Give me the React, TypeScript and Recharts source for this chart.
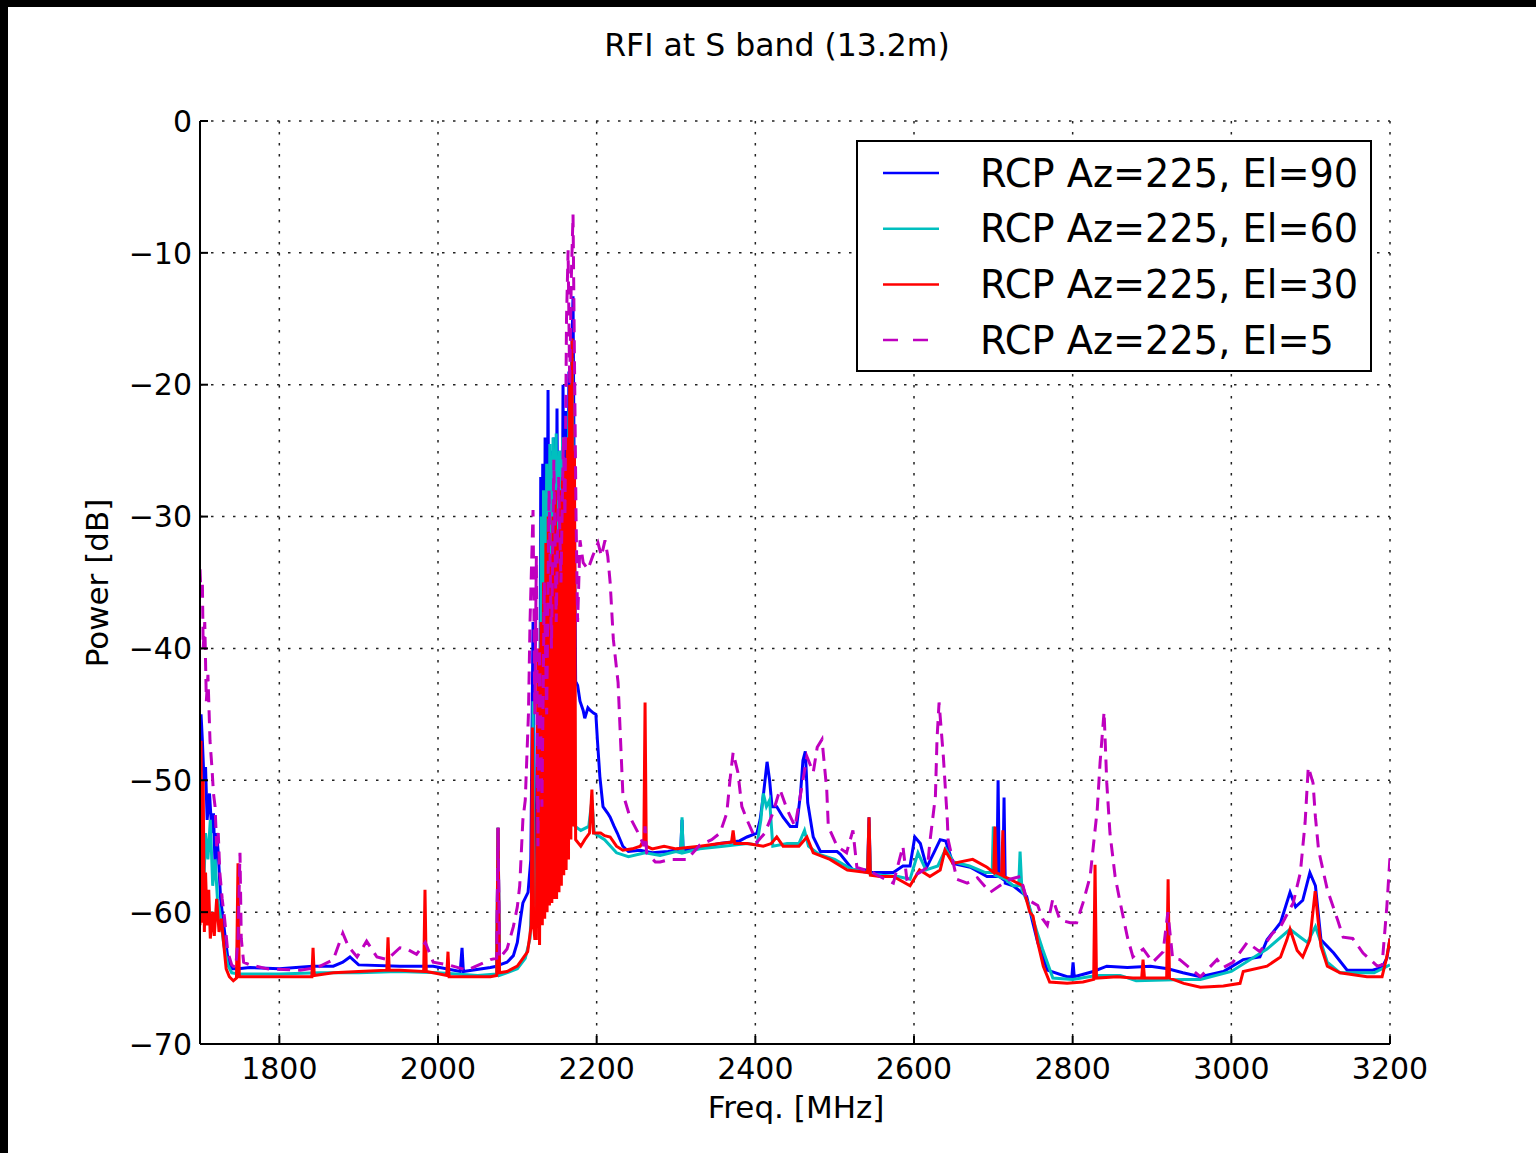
import { LineChart, Line, XAxis, YAxis, CartesianGrid } from "recharts"

// [freq MHz, power dB]
const rcpEl90: [number, number][] = [
  [1700, -48], [1701.3, -45], [1703, -47], [1705, -50], [1707, -49], [1709, -53], [1712, -51], [1715, -54],
  [1717, -52.5], [1719, -56.5], [1721, -54], [1723, -55.5], [1726, -59], [1729, -60.5], [1732, -62], [1735.3, -63.6],
  [1740, -64.3], [1748, -64.3], [1763, -64.2], [1800, -64.3], [1842, -64.1], [1868, -64.1], [1880, -63.8], [1889, -63.4],
  [1900, -64], [1952, -64.1], [1994, -64.1], [2028, -64.5], [2030.3, -62.7], [2032, -64.5], [2066, -64.2], [2074, -64.1],
  [2075.7, -53.6], [2077.5, -64], [2087, -63.8], [2095, -63.3], [2100, -62.3], [2104, -60.5], [2107, -59.3], [2113.5, -58.5],
  [2117, -56], [2119.8, -38], [2121.5, -51.5], [2124, -58], [2126, -50], [2128, -54], [2129.5, -27], [2130.5, -52],
  [2132, -26], [2133.5, -50], [2135, -24], [2136.5, -48], [2138.7, -20.4], [2140.5, -45], [2142, -25], [2144, -48],
  [2146, -24], [2148, -45], [2150, -21.8], [2152, -44], [2154, -25], [2156, -42], [2157.6, -20], [2159, -40],
  [2161, -22], [2163, -40], [2165, -19], [2167, -35], [2168.5, -18], [2170.2, -13.3], [2172, -30], [2173.5, -42.5],
  [2176, -42.8], [2179, -44], [2183, -44.7], [2185, -45.3], [2189, -44.5], [2192, -44.7], [2196, -44.9], [2199, -45],
  [2201, -47], [2204, -49.7], [2208, -52], [2214, -52.5], [2217, -52.8], [2222, -53.5], [2226, -54], [2233, -55],
  [2240, -55.4], [2255, -55.3], [2270, -55.5], [2290, -55.4], [2306, -55.2], [2307.6, -53], [2309, -55.3], [2330, -55.1],
  [2355, -54.8], [2380, -54.6], [2389.5, -54.3], [2402, -54], [2406, -53], [2410, -51.2], [2414.8, -48.6], [2418, -50],
  [2421, -52], [2427, -52], [2435, -52.8], [2444, -53.5], [2452, -53.5], [2457, -51], [2460, -48.5], [2463, -47.8],
  [2466, -51.7], [2473, -54.3], [2482, -55.4], [2503, -55.4], [2507, -55.6], [2523, -56.8], [2541.5, -56.8], [2543.3, -52.8],
  [2545, -57], [2557, -57], [2574, -57], [2586, -56.5], [2595, -56.5], [2601, -54.3], [2608, -54.8], [2616, -56.6],
  [2625, -55.5], [2633, -54.5], [2640, -54.6], [2649, -56.3], [2671, -56.6], [2692, -57.3], [2704.5, -57.3], [2706, -50],
  [2707.5, -57.3], [2712, -57.5], [2713.5, -51.3], [2715, -57.8], [2725, -58], [2742, -58.8], [2749, -60.6], [2756, -62.3],
  [2763, -63.5], [2768, -64.4], [2793, -64.9], [2799, -64.9], [2800.5, -63.8], [2802, -64.9], [2826, -64.5], [2843, -64.1],
  [2869, -64.2], [2898, -64.1], [2920, -64.3], [2939, -64.6], [2961, -64.9], [2990, -64.5], [3015, -63.6], [3036, -63.4],
  [3045, -62.1], [3062, -60.8], [3074, -58.5], [3081, -59.6], [3090, -59.1], [3099, -57], [3106, -58], [3113, -62.1],
  [3129, -63.1], [3146, -64.4], [3178, -64.4], [3190, -64.2], [3196, -63.5], [3200, -62],
]

const rcpEl60: [number, number][] = [
  [1700, -53], [1701.3, -50.7], [1703, -55], [1705, -57.5], [1707, -54], [1710, -56], [1713, -53], [1716, -58],
  [1719, -56], [1722, -59], [1725, -60], [1730, -62.5], [1735, -64], [1740, -64.6], [1750, -64.7], [1800, -64.7],
  [1850, -64.6], [1900, -64.6], [1950, -64.5], [2000, -64.6], [2050, -64.8], [2074, -64.7], [2075.7, -53.6], [2077.5, -64.8],
  [2100, -64.3], [2110, -63.5], [2116, -62], [2119, -58], [2119.8, -44], [2121, -58], [2124, -60], [2126, -52],
  [2128, -45], [2129, -58], [2130, -30], [2131.5, -55], [2133, -28], [2135, -52], [2137, -26], [2139, -50],
  [2141, -24.5], [2143, -48], [2145, -24], [2147, -46], [2149, -23.7], [2151, -45], [2153, -25], [2155, -44],
  [2157, -24], [2159, -42], [2161, -26], [2163, -42], [2165, -22], [2167, -40], [2169, -18], [2171, -30],
  [2173, -53.5], [2180, -53.8], [2190, -53.5], [2194, -51.5], [2197, -54], [2210, -54.5], [2225, -55.5], [2240, -55.8],
  [2261, -55.5], [2280, -55.7], [2300, -55.4], [2306, -55.5], [2307.6, -52.8], [2309, -55.5], [2330, -55.2], [2360, -55],
  [2390, -54.8], [2402, -54.9], [2407, -53], [2410, -51], [2414, -52], [2418, -51.5], [2422, -55], [2440, -54.8],
  [2455, -54.8], [2462, -53.8], [2467, -55], [2480, -55.6], [2500, -56], [2520, -56.7], [2541.5, -57], [2543.3, -53.5],
  [2545, -57.1], [2560, -57.2], [2580, -57.3], [2595, -57.5], [2605, -55.5], [2615, -56.8], [2630, -56.5], [2640, -55.2],
  [2650, -56.2], [2670, -56.5], [2690, -57], [2698.5, -57], [2700, -53.5], [2702, -57.2], [2715, -57.5], [2725, -58],
  [2732, -58], [2733.7, -55.4], [2736, -58.3], [2745, -59.5], [2755, -61.5], [2762, -62.8], [2775, -65], [2800, -65.1],
  [2830, -64.8], [2860, -64.8], [2880, -65.2], [2940, -65.1], [2961, -65.1], [3000, -64.5], [3045, -62.8], [3074, -61.3],
  [3087, -61.9], [3096, -62.3], [3106, -61.1], [3113, -62.3], [3121, -63.8], [3137, -64.6], [3180, -64.6], [3200, -64],
]

const rcpEl30: [number, number][] = [
  [1700, -61], [1701.3, -47], [1702.5, -60.8], [1704, -50], [1705.5, -61.5], [1707, -57], [1709, -61], [1711, -58.3],
  [1713, -62], [1716, -60], [1718, -61.8], [1721, -59], [1724, -61.5], [1727, -60.5], [1730, -62.5], [1733, -64.3],
  [1737, -64.9], [1742, -65.2], [1746, -65], [1747.9, -56.3], [1749.5, -64.9], [1763, -64.9], [1800, -64.9], [1841, -64.9],
  [1842.5, -62.7], [1844, -64.8], [1868, -64.6], [1900, -64.5], [1935.5, -64.4], [1937, -61.9], [1938.5, -64.4], [1952, -64.4],
  [1982, -64.5], [1983.6, -58.3], [1985.2, -64.5], [1994, -64.6], [2011, -64.8], [2012.6, -63], [2014, -64.9], [2036, -64.9],
  [2066, -64.9], [2074, -64.8], [2075.7, -53.6], [2077.5, -64.6], [2087, -64.5], [2100, -64.1], [2107, -63.5], [2113, -63],
  [2117.5, -61], [2119, -46], [2120.5, -61], [2122, -62], [2124, -62], [2126, -40], [2128, -62.5], [2130, -38],
  [2131.5, -61], [2133, -35], [2134.5, -60.5], [2136, -32], [2137.5, -60], [2139, -30], [2140.5, -59.5], [2142, -33],
  [2143.5, -59.3], [2145, -30], [2146.5, -59], [2148, -28], [2149.5, -59], [2151, -31], [2152.5, -58.5], [2154, -28],
  [2155.5, -58], [2157, -27], [2158.5, -57.2], [2160, -26], [2161.5, -56.8], [2163, -24], [2164.5, -56], [2166, -20],
  [2167.5, -54.5], [2169, -16.5], [2170.5, -53.5], [2172, -25], [2173.5, -54.5], [2180, -55], [2185, -54.5], [2191, -54],
  [2194, -50.7], [2196, -54], [2205, -54], [2210, -54.2], [2217, -54.3], [2225, -55], [2233, -55.3], [2245, -55.2],
  [2255, -55], [2259.5, -54.5], [2261, -44.1], [2262.5, -55], [2270, -55.2], [2285, -55], [2300, -55.2], [2330, -55],
  [2355, -54.8], [2370, -54.7], [2372, -53.8], [2374, -54.8], [2390, -54.8], [2410, -55], [2420, -54.8], [2427, -54.3],
  [2435, -55], [2455, -55], [2465, -54.3], [2473, -55.5], [2494, -56], [2516, -56.8], [2541.5, -57], [2543.3, -52.8],
  [2545, -57.2], [2557, -57.3], [2574, -57.3], [2595, -58], [2607, -56.8], [2620, -57.3], [2633, -56.8], [2639, -55.3],
  [2649, -56.3], [2674, -56], [2692, -56.6], [2700.5, -57], [2702, -53.5], [2703.5, -57], [2710.5, -57.2], [2712, -53.8],
  [2713.5, -57.3], [2721, -57.5], [2737, -58], [2746, -60], [2750, -60.3], [2756, -62.3], [2763, -64.1], [2771, -65.3],
  [2793, -65.4], [2813, -65.3], [2826.5, -65.1], [2828.2, -56.4], [2830, -65], [2856, -64.9], [2876, -65], [2887, -65],
  [2888.7, -63.6], [2890.5, -65], [2901, -65], [2918.5, -65], [2920.3, -57.5], [2922, -65], [2940, -65.4], [2961, -65.7],
  [2990, -65.6], [3011, -65.4], [3015, -64.5], [3045, -64.1], [3062, -63.4], [3070, -62.1], [3074, -61.3], [3083, -62.9],
  [3090, -63.4], [3099, -62.1], [3105.7, -58.4], [3110, -61], [3113, -62.6], [3121, -64.1], [3137, -64.6], [3171, -64.9],
  [3190, -64.9], [3196, -63.4], [3200, -62],
]

const rcpEl5: [number, number][] = [
  [1700, -34], [1701.3, -36], [1703, -35], [1704, -40], [1706, -38], [1708, -44], [1710, -42], [1712.6, -47],
  [1715, -49], [1717, -51], [1719, -52], [1721, -55], [1723, -54], [1725, -57], [1728, -59], [1731, -60.5],
  [1735, -63], [1740, -64], [1745, -64.2], [1748, -62], [1750.4, -55.5], [1752, -62], [1755, -63.8], [1763, -64],
  [1785, -64.3], [1826, -64.4], [1848, -64.2], [1868, -63.6], [1880, -61.6], [1887, -62.6], [1898, -63.4], [1910, -62.2],
  [1923, -63.4], [1936, -63.6], [1952, -62.7], [1961, -62.8], [1973, -63.2], [1984, -62.3], [1994, -63.8], [2013, -64],
  [2037, -64.4], [2066, -63.6], [2074, -63.5], [2075.7, -53.6], [2077.5, -63.5], [2087, -62.8], [2095, -61.1], [2100, -59.6],
  [2103, -58], [2107, -53], [2110, -51.5], [2114, -45], [2116, -38], [2119.8, -29.5], [2122, -45], [2124, -33],
  [2126, -55], [2128, -40], [2131, -52], [2134, -35], [2137, -45], [2140, -28], [2143, -40], [2146, -25.7],
  [2149, -38], [2152, -27], [2155, -35], [2158, -24], [2160, -30], [2162, -15], [2164, -9.8], [2166, -20],
  [2168, -12], [2170.2, -7.1], [2172, -18], [2174, -30], [2176, -38], [2179, -31.8], [2183, -33.5], [2189, -34],
  [2195, -33], [2201.7, -32], [2206, -33], [2210.5, -31.8], [2214, -33], [2217, -35], [2221, -39.3], [2227, -42.6],
  [2233, -51], [2242, -52.8], [2255, -54.3], [2259.5, -55], [2261, -53.5], [2263, -55.5], [2274, -56.2], [2280, -56.2],
  [2292, -56], [2305, -56], [2314, -56], [2330, -54.9], [2345, -54.5], [2355.5, -54], [2364, -52.5], [2368, -50],
  [2372, -47.9], [2378, -49.4], [2383, -52], [2389.5, -53], [2402, -54.7], [2412, -54], [2422, -52.5], [2431, -50.7],
  [2440, -52.2], [2450, -53.5], [2460, -50], [2465, -48.2], [2473, -49.4], [2478, -47.5], [2484, -46.9], [2490, -50.7],
  [2492, -53.5], [2503, -55], [2515, -55.5], [2523, -53.8], [2528, -56.6], [2548, -57], [2557, -57.3], [2574, -57.8],
  [2586, -55], [2591, -57.5], [2607, -57], [2617, -56.6], [2620, -54.7], [2627, -51.2], [2629, -46.9], [2631.6, -44.1],
  [2637, -48.2], [2642, -53], [2643, -54.5], [2654, -57.5], [2667, -57.8], [2680, -57.4], [2696, -58.5], [2708, -58],
  [2721, -57.5], [2734, -57.3], [2742, -59], [2756, -59.5], [2762, -60.5], [2768, -61], [2775, -59], [2784, -60.6],
  [2797, -60.8], [2805, -60.8], [2813, -59.3], [2822, -57.3], [2831, -52.2], [2834.5, -48.7], [2839.6, -44.8], [2843, -50.2],
  [2847, -54], [2853.5, -57.3], [2860, -59.3], [2869, -61.9], [2876, -63.4], [2889, -62.8], [2901, -63.8], [2914, -63],
  [2920, -60], [2926, -63.5], [2935, -63.6], [2961, -64.9], [2982, -63.6], [2990, -64.2], [3002, -63.8], [3020, -62.3],
  [3036, -63], [3052, -61.6], [3062, -61.1], [3078, -59.3], [3087, -57], [3093, -53.2], [3097, -49], [3103, -50.2],
  [3106, -52.8], [3110, -55.3], [3121, -58.3], [3134, -60.6], [3141, -61.9], [3153, -62], [3166, -63.1], [3184, -64.1],
  [3190, -64], [3196, -59.6], [3200, -55.8],
]

const xTicks = [1800, 2000, 2200, 2400, 2600, 2800, 3000, 3200]
const yTicks = [0, -10, -20, -30, -40, -50, -60, -70]

const series = [
  { name: "RCP Az=225, El=90", points: rcpEl90, color: "#0000ff", dash: undefined },
  { name: "RCP Az=225, El=60", points: rcpEl60, color: "#00bfbf", dash: undefined },
  { name: "RCP Az=225, El=30", points: rcpEl30, color: "#ff0000", dash: undefined },
  { name: "RCP Az=225, El=5", points: rcpEl5, color: "#bf00bf", dash: "13 8" },
]

const FONT = "DejaVu Sans"
const W = 1528
const H = 1146

const fmtY = (v: number) => (v < 0 ? "\u2212" + Math.abs(v) : String(v))

export default function App() {
  const tickStyle = { fontSize: 30, fill: "#000", fontFamily: FONT }
  const axisStroke = { stroke: "#000", strokeWidth: 2 }

  return (
    <div style={{ position: "absolute", left: 0, top: 0, width: 1536, height: 1153, background: "#000", overflow: "hidden" }}>
      <div style={{ position: "absolute", left: 8, top: 7, width: W, height: H, background: "#fff", fontFamily: FONT }}>
        <LineChart width={W} height={H} margin={{ top: 114, right: 146, bottom: 49, left: 92 }} style={{ fontFamily: FONT }}>
          <CartesianGrid stroke="#222" strokeWidth={1.5} strokeDasharray="2.5 8.5" horizontalValues={yTicks} verticalValues={xTicks} />
          <XAxis
            type="number"
            dataKey="x"
            domain={[1700, 3200]}
            ticks={xTicks}
            allowDataOverflow
            height={60}
            tick={tickStyle}
            tickSize={-8}
            tickMargin={21.5}
            axisLine={axisStroke}
            tickLine={axisStroke}
            interval={0}
          />
          <XAxis
            xAxisId="top"
            orientation="top"
            type="number"
            domain={[1700, 3200]}
            ticks={xTicks}
            allowDataOverflow
            height={0}
            tick={false}
            tickSize={-8}
            axisLine={axisStroke}
            tickLine={axisStroke}
          />
          <YAxis
            type="number"
            domain={[-70, 0]}
            ticks={yTicks}
            allowDataOverflow
            width={100}
            tick={tickStyle}
            tickFormatter={fmtY}
            tickSize={-8}
            tickMargin={16}
            axisLine={axisStroke}
            tickLine={axisStroke}
            interval={0}
          />
          <YAxis
            yAxisId="right"
            orientation="right"
            type="number"
            domain={[-70, 0]}
            ticks={yTicks}
            allowDataOverflow
            width={0}
            tick={false}
            tickSize={-8}
            axisLine={axisStroke}
            tickLine={axisStroke}
          />
          {series.map((s) => (
            <Line
              key={s.name}
              data={s.points.map(([x, y]) => ({ x, y }))}
              dataKey="y"
              name={s.name}
              type="linear"
              stroke={s.color}
              strokeWidth={3}
              strokeDasharray={s.dash}
              dot={false}
              activeDot={false}
              isAnimationActive={false}
            />
          ))}
        </LineChart>

        {/* title, axis labels and legend laid over the chart */}
        <svg width={W} height={H} style={{ position: "absolute", left: 0, top: 0, pointerEvents: "none" }}>
          <text x={769} y={38} textAnchor="middle" dominantBaseline="central" fontSize={31.5} fontFamily={FONT} fill="#000">
            RFI at S band (13.2m)
          </text>
          <text x={788} y={1100} textAnchor="middle" dominantBaseline="central" fontSize={31} fontFamily={FONT} fill="#000">
            Freq. [MHz]
          </text>
          <text
            x={89}
            y={576}
            textAnchor="middle"
            dominantBaseline="central"
            fontSize={31}
            fontFamily={FONT}
            fill="#000"
            transform="rotate(-90 89 576)"
          >
            Power [dB]
          </text>
          <g transform="translate(849 134)">
            <rect x={0} y={0} width={514} height={230} fill="#fff" stroke="#000" strokeWidth={2} />
            {series.map((s, i) => (
              <g key={s.name}>
                <line
                  x1={26}
                  x2={82}
                  y1={32 + i * 55.7}
                  y2={32 + i * 55.7}
                  stroke={s.color}
                  strokeWidth={2.5}
                  strokeDasharray={s.dash ? "15 15" : undefined}
                />
                <text x={123} y={32 + i * 55.7} dominantBaseline="central" fontSize={38.3} fontFamily={FONT} fill="#000">
                  {s.name}
                </text>
              </g>
            ))}
          </g>
        </svg>
      </div>
    </div>
  )
}
